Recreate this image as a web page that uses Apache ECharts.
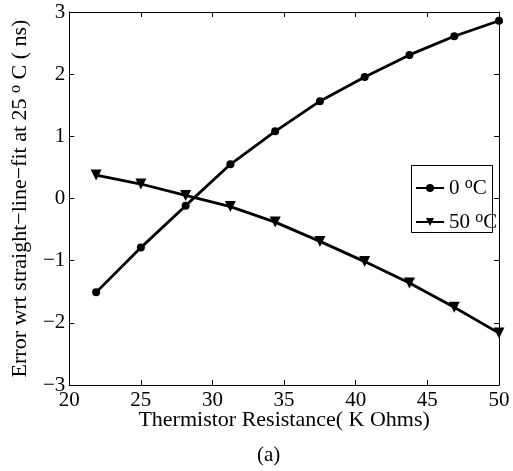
<!DOCTYPE html>
<html>
<head>
<meta charset="utf-8">
<script src="https://cdn.jsdelivr.net/npm/echarts@6/dist/echarts.min.js"></script>
<style>html,body{margin:0;padding:0;background:#fff;}#c{width:513px;height:471px;}</style>
</head>
<body>
<div id="c"></div>
<script>
var resistance = [21.875, 25, 28.125, 31.25, 34.375, 37.5, 40.625, 43.75, 46.875, 50];
var err0C = [-1.51, -0.79, -0.115, 0.55, 1.08, 1.566, 1.956, 2.31, 2.61, 2.86];
var err50C = [0.377, 0.233, 0.05, -0.13, -0.38, -0.69, -1.015, -1.36, -1.75, -2.165];
var seriesNames = ['0 °C', '50 °C'];
var xTitle = 'Thermistor Resistance( K Ohms)';
var yTitle = 'Error wrt straight\u2212line\u2212fit at 25 {s|o} C ( ns)';
var caption = '(a)';

var FONT = 'Liberation Serif';
function pairs(xs, ys) { return xs.map(function (x, i) { return [x, ys[i]]; }); }
function minus(v) { return String(v).replace('-', '\u2212'); }

var chart = echarts.init(document.getElementById('c'), null, {renderer: 'canvas'});
var axisCommon = {
  axisLine: {show: true, onZero: false, lineStyle: {color: '#000', width: 1}},
  axisTick: {show: true, inside: true, length: 5, lineStyle: {color: '#000', width: 1}},
  splitLine: {show: false}
};
var supStyle = {fontFamily: FONT, fontSize: 16, verticalAlign: 'top', lineHeight: 24, color: '#000'};
chart.setOption({
  animation: false,
  backgroundColor: '#fff',
  grid: {left: 63, right: 14, top: 12, bottom: 86, containLabel: false},
  title: {
    text: caption, left: 257, top: 445, padding: 0,
    textStyle: {fontFamily: FONT, fontSize: 21, fontWeight: 'normal', color: '#000'}
  },
  graphic: [{
    type: 'rect', left: 411, top: 165, z: 90,
    shape: {width: 81, height: 67},
    style: {fill: '#fff', stroke: '#000', lineWidth: 1}
  }],
  legend: {
    left: 415, top: 176, orient: 'vertical',
    padding: 0,
    itemGap: 10,
    itemWidth: 28, itemHeight: 10,
    z: 100,
    data: seriesNames,
    formatter: function (n) { return n.replace('°', '{s|o}'); },
    textStyle: {
      fontFamily: FONT, fontSize: 21, color: '#000', lineHeight: 24,
      rich: {s: supStyle}
    }
  },
  xAxis: [
    Object.assign({
      type: 'value', position: 'bottom', min: 20, max: 50, interval: 5,
      name: xTitle, nameLocation: 'middle', nameGap: 24, nameMoveOverlap: false,
      nameTextStyle: {fontFamily: FONT, fontSize: 22, color: '#000'},
      axisLabel: {fontFamily: FONT, fontSize: 21, color: '#000', margin: 5}
    }, axisCommon),
    Object.assign({
      type: 'value', position: 'top', min: 20, max: 50, interval: 5,
      axisLabel: {show: false}
    }, axisCommon)
  ],
  yAxis: [
    Object.assign({
      type: 'value', position: 'left', min: -3, max: 3, interval: 1,
      name: yTitle,
      nameLocation: 'middle', nameGap: 30, nameRotate: 90,
      nameTextStyle: {
        fontFamily: FONT, fontSize: 22, color: '#000', lineHeight: 24,
        rich: {s: supStyle}
      },
      axisLabel: {fontFamily: FONT, fontSize: 21, color: '#000', margin: 4, formatter: minus}
    }, axisCommon),
    Object.assign({
      type: 'value', position: 'right', min: -3, max: 3, interval: 1,
      axisLabel: {show: false}
    }, axisCommon)
  ],
  series: [
    {
      name: seriesNames[0], type: 'line', data: pairs(resistance, err0C),
      symbol: 'circle', symbolSize: 8, showAllSymbol: true,
      lineStyle: {color: '#000', width: 2.8}, itemStyle: {color: '#000'}, clip: false
    },
    {
      name: seriesNames[1], type: 'line', data: pairs(resistance, err50C),
      symbol: 'triangle', symbolRotate: 180, symbolSize: 11, showAllSymbol: true,
      lineStyle: {color: '#000', width: 2.8}, itemStyle: {color: '#000'}, clip: false
    }
  ]
});
</script>
</body>
</html>
